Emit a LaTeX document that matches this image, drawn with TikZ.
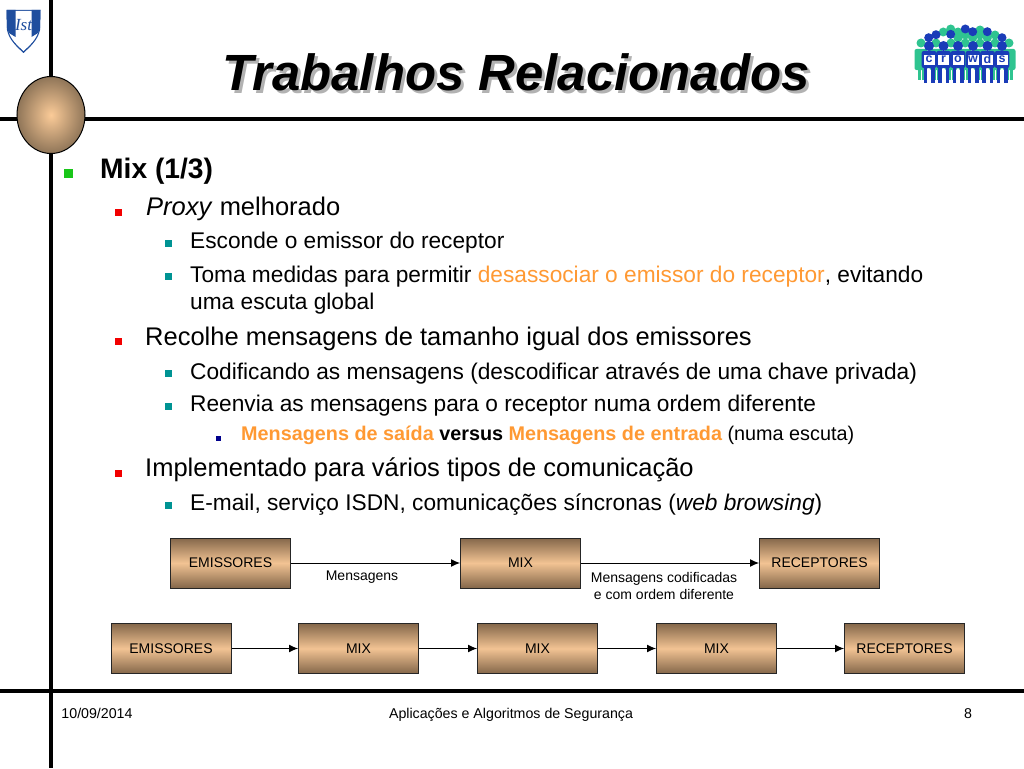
\documentclass[tikz,border=0pt]{standalone}
\usepackage{fontspec}
\setmainfont{Liberation Sans}
\newfontfamily\crestfont{Liberation Serif}
\usetikzlibrary{arrows.meta}
\usetikzlibrary{positioning}
\usetikzlibrary{shapes.geometric}
\definecolor{tan1}{HTML}{F2C393}
\definecolor{tan2}{HTML}{84674A}
\definecolor{knobin}{HTML}{FBCB98}
\definecolor{knobout}{HTML}{8F7558}
\definecolor{hot}{HTML}{FF9933}
\definecolor{shieldblue}{HTML}{1F4E9E}
\definecolor{crowdblue}{HTML}{1A3CB8}
\definecolor{crowdgreen}{HTML}{2FC490}
\tikzset{>={Latex[length=9pt,width=8pt]}}
\tikzstyle{bar} = [line width=4pt, black]
\tikzstyle{box} = [rectangle, draw=black!85, line width=1pt, minimum width=120pt,
    minimum height=50pt, inner sep=0pt, top color=tan2, bottom color=tan2,
    middle color=tan1, font=\fontsize{14}{16}\selectfont]
\tikzstyle{txt} = [anchor=base west, inner sep=0pt]
\tikzstyle{one} = [txt, font=\fontsize{28.2}{32}\selectfont\bfseries]
\tikzstyle{two} = [txt, font=\fontsize{25.5}{28}\selectfont]
\tikzstyle{three} = [txt, font=\fontsize{22.7}{26}\selectfont]
\tikzstyle{four} = [txt, font=\fontsize{19.8}{22}\selectfont]
\tikzstyle{small} = [inner sep=0pt, align=center, font=\fontsize{14}{17}\selectfont]
\tikzstyle{foot} = [inner sep=0pt, anchor=base, font=\fontsize{14.2}{16}\selectfont]
\tikzstyle{bul} = [rectangle, inner sep=0pt, minimum size=7pt]
\tikzstyle{link} = [->, line width=1pt, black]
\begin{document}
\begin{tikzpicture}[x=1pt,y=-1pt]
\useasboundingbox (0,0) rectangle (1024,768);
    %frame
    \draw[bar] (51,0) to (51,768);
    \draw[bar] (0,119) to (1024,119);
    \draw[bar] (0,691) to (1024,691);
    \node[ellipse, draw=black, line width=1pt, inner color=knobin, outer color=knobout,
        minimum width=68pt, minimum height=77pt, inner sep=0pt] (knob) at (51,115) {};
    %shield
    \fill[shieldblue] (6.5,10) -- (40.5,10) -- (40,30) .. controls (38,40) and (30,47) .. (23.5,53)
        .. controls (17,47) and (9,40) .. (7,30) -- cycle;
    \fill[white] (8,11) -- (39,11) -- (38.7,30) .. controls (37,39) and (29.5,45.5) .. (23.5,51)
        .. controls (17.5,45.5) and (10,39) .. (8.3,30) -- cycle;
    \fill[shieldblue] (6.5,10) -- (15.5,10) -- (15.5,37) -- (9,33) -- (7,28) -- cycle;
    \fill[shieldblue] (31.5,10) -- (40.5,10) -- (40,28) -- (38,33) -- (31.5,37) -- cycle;
    \node[shieldblue, inner sep=0pt, font=\fontsize{17}{17}\crestfont\itshape\selectfont] (shieldtxt) at (23.5,25) {Ist};
    %crowd
    \foreach \x/\y in {950.7/29,958/32,965.3/35,980/30,980/35,995/35,943.3/32,958/38,972.7/38,987.3/38,
        936/43,951/43,965.3/43,980/43,995/43,921/43,1009/43}
        \fill[crowdgreen] (\x,\y) circle (4.5pt);
    \foreach \x in {921,936,951,965,980,995,1009} {
        \fill[crowdgreen,rounded corners=2pt] (\x-6.5,49) rectangle (\x+6.5,70);
        \fill[crowdgreen] (\x-3.5,70) rectangle (\x-0.5,80);
        \fill[crowdgreen] (\x+0.5,70) rectangle (\x+3.5,80);
    }
    \foreach \x/\y in {928.7/37.7,936/34.7,950.7/34.3,965.3/29,972.7/31.7,987.3/31.7,1002/37.7}
        \fill[crowdblue] (\x,\y) circle (4.5pt);
    \foreach \x/\c in {929/c,943.5/r,958/o,973/w,987.5/d,1002/s} {
        \fill[crowdblue] (\x,46) circle (5pt);
        \fill[crowdblue,rounded corners=2pt] (\x-7.3,51) rectangle (\x+7.3,68);
        \fill[crowdblue] (\x-5.5,66) rectangle (\x-2,82.5);
        \fill[crowdblue] (\x+2,66) rectangle (\x+5.5,82.5);
        \node[fill=white, minimum width=11pt, minimum height=10pt, inner sep=0pt] (bg\c) at (\x,60) {};
        \node[crowdblue, inner sep=0pt, font=\fontsize{12.5}{13}\selectfont\bfseries] (let\c) at (\x,59.5) {\c};
    }
    %title
    \node[txt, gray!60, font=\fontsize{50.9}{56}\selectfont\bfseries\itshape] (titleshade) at (225,93) {Trabalhos Relacionados};
    \node[txt, font=\fontsize{50.9}{56}\selectfont\bfseries\itshape] (title) at (222,90) {Trabalhos Relacionados};
    %bullets
    \node[bul, minimum size=9pt, fill=green!75!black!90!white] (b1) at (68,173) {};
    \foreach \n/\y in {a/212,b/341,c/473}
        \node[bul, fill=red!95!black] (r\n) at (118,\y) {};
    \foreach \n/\y in {a/243,b/276,c/373,d/406,e/505}
        \node[bul, fill=teal!85!cyan] (t\n) at (168,\y) {};
    \node[bul, minimum size=5pt, fill=blue!55!black] (n1) at (218,438) {};
    %text
    \node[one] (mix) at (100,178) {Mix (1/3)};
    \node[two] (proxy) at (146,215) {\textit{Proxy} melhorado};
    \node[three] (esconde) at (190,248.5) {Esconde o emissor do receptor};
    \node[three] (toma) at (190,282) {Toma medidas para permitir \textcolor{hot}{desassociar o emissor do receptor}, evitando};
    \node[three] (uma) at (190,309) {uma escuta global};
    \node[two] (recolhe) at (145,345) {Recolhe mensagens de tamanho igual dos emissores};
    \node[three] (codif) at (190,379) {Codificando as mensagens (descodificar através de uma chave privada)};
    \node[three] (reenvia) at (190,411.5) {Reenvia as mensagens para o receptor numa ordem diferente};
    \node[four] (saida) at (241,440) {\textbf{\textcolor{hot}{Mensagens de saída} versus \textcolor{hot}{Mensagens de entrada}} (numa escuta)};
    \node[two] (impl) at (145,476) {Implementado para vários tipos de comunicação};
    \node[three] (email) at (190,510) {E-mail, serviço ISDN, comunicações síncronas (\textit{web browsing})};
    %first row
    \node[box] (em) at (230.5,563) {EMISSORES};
    \node[box] (mx) at (520.5,563) {MIX};
    \node[box] (re) at (819.5,563) {RECEPTORES};
    \draw[link] (em) to (mx);
    \draw[link] (mx) to (re);
    \node[small] (lbl) at (362,577) {Mensagens};
    \node[small] (lblb) at (664,586) {Mensagens codificadas\\e com ordem diferente};
    %second row
    \node[box] (em2) at (171,648.5) {EMISSORES};
    \node[box] (mxa) at (358.5,648.5) {MIX};
    \node[box] (mxb) at (537.5,648.5) {MIX};
    \node[box] (mxc) at (716.5,648.5) {MIX};
    \node[box] (re2) at (904.5,648.5) {RECEPTORES};
    \draw[link] (em2) to (mxa);
    \draw[link] (mxa) to (mxb);
    \draw[link] (mxb) to (mxc);
    \draw[link] (mxc) to (re2);
    %footer
    \node[foot] (date) at (97,718) {10/09/2014};
    \node[foot] (course) at (511,718) {Aplicações e Algoritmos de Segurança};
    \node[foot] (page) at (968,718) {8};
\end{tikzpicture}
\end{document}
